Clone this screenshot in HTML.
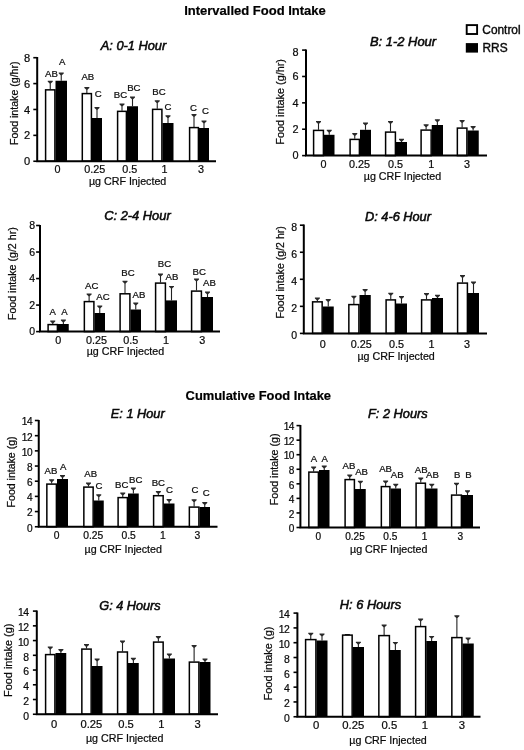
<!DOCTYPE html>
<html lang="en"><head><meta charset="utf-8"><title>Food Intake</title>
<style>
html,body{margin:0;padding:0;background:#fff;}
body{width:524px;height:750px;overflow:hidden;}
svg{display:block;font-family:"Liberation Sans", Arial, Helvetica, sans-serif;fill:#0a0a0a;filter:blur(0.45px);}
text{stroke:#0a0a0a;stroke-width:0.22px;}
.ax{fill:none;stroke:#000;stroke-width:2;stroke-linejoin:miter;}
.tk{fill:none;stroke:#000;stroke-width:1.6;}
.eb{fill:none;stroke:#222;stroke-width:1.1;}
.ec{fill:#2a2a2a;stroke:none;}
.wb{fill:#fff;stroke:#000;stroke-width:1.5;}
.bb{fill:#000;}
.yt{font-size:10.5px;text-anchor:end;}
.xt{font-size:10.8px;text-anchor:middle;}
.xl{font-size:10.7px;text-anchor:middle;}
.yl{font-size:11.5px;text-anchor:middle;}
.pt{font-size:13.2px;font-style:italic;text-anchor:middle;stroke-width:0.55px;}
.lt{font-size:9.6px;text-anchor:middle;fill:#111;}
.mt{font-size:13px;font-weight:bold;text-anchor:middle;fill:#000;}
.lg{font-size:11.9px;stroke-width:0.4px;}
</style></head><body>
<svg width="524" height="750" viewBox="0 0 524 750">
<rect width="524" height="750" fill="#fff"/>
<text x="255" y="15.3" class="mt">Intervalled Food Intake</text>
<text x="258.3" y="399.9" class="mt" style="font-size:12.9px">Cumulative Food Intake</text>
<rect x="466.7" y="25.1" width="10.4" height="8.9" fill="#fff" stroke="#000" stroke-width="1.9"/>
<rect x="465.8" y="43.1" width="12.2" height="9.5" fill="#000"/>
<text x="482.3" y="34" class="lg">Control</text>
<text x="482.5" y="52.2" class="lg">RRS</text>
<path d="M50.25 89.25V81.25" class="eb"/><path d="M47.75 80.75H52.75V81.65L50.75 83.45H49.75L47.75 81.65Z" class="ec"/>
<path d="M61.25 80.75V73.00" class="eb"/><path d="M58.75 72.50H63.75V73.40L61.75 75.20H60.75L58.75 73.40Z" class="ec"/>
<rect x="45.60" y="89.85" width="9.30" height="71.40" class="wb"/>
<rect x="55.50" y="80.75" width="11.50" height="80.50" class="bb"/>
<path d="M86.85 93.00V87.50" class="eb"/><path d="M84.35 87.00H89.35V87.90L87.35 89.70H86.35L84.35 87.90Z" class="ec"/>
<path d="M97.00 118.00V107.60" class="eb"/><path d="M94.50 107.10H99.50V108.00L97.50 109.80H96.50L94.50 108.00Z" class="ec"/>
<rect x="82.30" y="93.60" width="9.10" height="67.65" class="wb"/>
<rect x="92.00" y="118.00" width="10.00" height="43.25" class="bb"/>
<path d="M122.00 110.75V104.00" class="eb"/><path d="M119.50 103.50H124.50V104.40L122.50 106.20H121.50L119.50 104.40Z" class="ec"/>
<path d="M132.50 106.25V97.00" class="eb"/><path d="M130.00 96.50H135.00V97.40L133.00 99.20H132.00L130.00 97.40Z" class="ec"/>
<rect x="117.60" y="111.35" width="8.80" height="49.90" class="wb"/>
<rect x="127.00" y="106.25" width="11.00" height="55.00" class="bb"/>
<path d="M157.25 108.75V100.75" class="eb"/><path d="M154.75 100.25H159.75V101.15L157.75 102.95H156.75L154.75 101.15Z" class="ec"/>
<path d="M168.00 123.00V115.75" class="eb"/><path d="M165.50 115.25H170.50V116.15L168.50 117.95H167.50L165.50 116.15Z" class="ec"/>
<rect x="152.60" y="109.35" width="9.30" height="51.90" class="wb"/>
<rect x="162.50" y="123.00" width="11.00" height="38.25" class="bb"/>
<path d="M194.00 127.00V114.60" class="eb"/><path d="M191.50 114.10H196.50V115.00L194.50 116.80H193.50L191.50 115.00Z" class="ec"/>
<path d="M204.00 128.00V121.10" class="eb"/><path d="M201.50 120.60H206.50V121.50L204.50 123.30H203.50L201.50 121.50Z" class="ec"/>
<rect x="189.60" y="127.60" width="8.80" height="33.65" class="wb"/>
<rect x="199.00" y="128.00" width="10.00" height="33.25" class="bb"/>
<path d="M37.20 57.10V161.25H216.00" class="ax"/>
<path d="M33.30 161.25H37.20" class="tk"/>
<text x="30.20" y="165.35" class="yt" style="font-size:11.1px;letter-spacing:0px">0</text>
<path d="M33.30 135.36H37.20" class="tk"/>
<text x="30.20" y="139.46" class="yt" style="font-size:11.1px;letter-spacing:0px">2</text>
<path d="M33.30 109.47H37.20" class="tk"/>
<text x="30.20" y="113.58" class="yt" style="font-size:11.1px;letter-spacing:0px">4</text>
<path d="M33.30 83.59H37.20" class="tk"/>
<text x="30.20" y="87.69" class="yt" style="font-size:11.1px;letter-spacing:0px">6</text>
<path d="M33.30 57.70H37.20" class="tk"/>
<text x="30.20" y="61.80" class="yt" style="font-size:11.1px;letter-spacing:0px">8</text>
<text x="57.40" y="172.5" class="xt" style="font-size:10.8px">0</text>
<text x="94.80" y="172.5" class="xt" style="font-size:10.8px">0.25</text>
<text x="129.70" y="172.5" class="xt" style="font-size:10.8px">0.5</text>
<text x="164.50" y="172.5" class="xt" style="font-size:10.8px">1</text>
<text x="201.00" y="172.5" class="xt" style="font-size:10.8px">3</text>
<text x="127.60" y="185" class="xl">µg CRF Injected</text>
<text transform="translate(17.6 103.27) rotate(-90)" class="yl" style="font-size:10.6px">Food intake (g/hr)</text>
<text x="133.5" y="50" class="pt" style="font-size:12.8px">A: 0-1 Hour</text>
<text x="51.5" y="76.5" class="lt">AB</text>
<text x="62.3" y="64.7" class="lt">A</text>
<text x="87.8" y="79.9" class="lt">AB</text>
<text x="98.3" y="96.5" class="lt">C</text>
<text x="120.5" y="98" class="lt">BC</text>
<text x="133.8" y="91.2" class="lt">BC</text>
<text x="159" y="94.5" class="lt">BC</text>
<text x="168" y="110" class="lt">C</text>
<text x="193.4" y="110.5" class="lt">C</text>
<text x="205.4" y="113.75" class="lt">C</text>
<path d="M318.50 129.80V121.50" class="eb"/><path d="M316.00 121.00H321.00V121.90L319.00 123.70H318.00L316.00 121.90Z" class="ec"/>
<path d="M329.25 134.80V130.25" class="eb"/><path d="M326.75 129.75H331.75V130.65L329.75 132.45H328.75L326.75 130.65Z" class="ec"/>
<rect x="313.60" y="130.40" width="9.80" height="25.20" class="wb"/>
<rect x="324.00" y="134.80" width="10.50" height="20.80" class="bb"/>
<path d="M354.75 138.80V133.50" class="eb"/><path d="M352.25 133.00H357.25V133.90L355.25 135.70H354.25L352.25 133.90Z" class="ec"/>
<path d="M365.50 129.80V123.00" class="eb"/><path d="M363.00 122.50H368.00V123.40L366.00 125.20H365.00L363.00 123.40Z" class="ec"/>
<rect x="350.10" y="139.40" width="9.30" height="16.20" class="wb"/>
<rect x="360.00" y="129.80" width="11.00" height="25.80" class="bb"/>
<path d="M390.50 131.50V121.50" class="eb"/><path d="M388.00 121.00H393.00V121.90L391.00 123.70H390.00L388.00 121.90Z" class="ec"/>
<path d="M401.50 142.00V139.25" class="eb"/><path d="M399.00 138.75H404.00V139.65L402.00 141.45H401.00L399.00 139.65Z" class="ec"/>
<rect x="385.60" y="132.10" width="9.80" height="23.50" class="wb"/>
<rect x="396.00" y="142.00" width="11.00" height="13.60" class="bb"/>
<path d="M426.12 129.50V124.80" class="eb"/><path d="M423.62 124.30H428.62V125.20L426.62 127.00H425.62L423.62 125.20Z" class="ec"/>
<path d="M437.38 125.00V119.75" class="eb"/><path d="M434.88 119.25H439.88V120.15L437.88 121.95H436.88L434.88 120.15Z" class="ec"/>
<rect x="421.10" y="130.10" width="10.05" height="25.50" class="wb"/>
<rect x="431.75" y="125.00" width="11.25" height="30.60" class="bb"/>
<path d="M462.12 127.50V120.50" class="eb"/><path d="M459.62 120.00H464.62V120.90L462.62 122.70H461.62L459.62 120.90Z" class="ec"/>
<path d="M473.12 130.50V126.50" class="eb"/><path d="M470.62 126.00H475.62V126.90L473.62 128.70H472.62L470.62 126.90Z" class="ec"/>
<rect x="457.35" y="128.10" width="9.55" height="27.50" class="wb"/>
<rect x="467.50" y="130.50" width="11.25" height="25.10" class="bb"/>
<path d="M306.00 49.50V155.60H487.00" class="ax"/>
<path d="M302.10 155.60H306.00" class="tk"/>
<text x="298.50" y="159.30" class="yt" style="font-size:10.9px;letter-spacing:0px">0</text>
<path d="M302.10 129.22H306.00" class="tk"/>
<text x="298.50" y="132.92" class="yt" style="font-size:10.9px;letter-spacing:0px">2</text>
<path d="M302.10 102.85H306.00" class="tk"/>
<text x="298.50" y="106.55" class="yt" style="font-size:10.9px;letter-spacing:0px">4</text>
<path d="M302.10 76.47H306.00" class="tk"/>
<text x="298.50" y="80.17" class="yt" style="font-size:10.9px;letter-spacing:0px">6</text>
<path d="M302.10 50.10H306.00" class="tk"/>
<text x="298.50" y="55.60" class="yt" style="font-size:10.9px;letter-spacing:0px">8</text>
<text x="323.50" y="167.7" class="xt" style="font-size:10.8px">0</text>
<text x="359.50" y="167.7" class="xt" style="font-size:10.8px">0.25</text>
<text x="395.50" y="167.7" class="xt" style="font-size:10.8px">0.5</text>
<text x="431.25" y="167.7" class="xt" style="font-size:10.8px">1</text>
<text x="467.00" y="167.7" class="xt" style="font-size:10.8px">3</text>
<text x="402.50" y="180" class="xl">µg CRF Injected</text>
<text transform="translate(284.25 101.85) rotate(-90)" class="yl" style="font-size:10.85px">Food intake (g/hr)</text>
<text x="403" y="45.8" class="pt" style="font-size:12.95px">B: 1-2 Hour</text>
<path d="M52.75 324.00V321.00" class="eb"/><path d="M50.25 320.50H55.25V321.40L53.25 323.20H52.25L50.25 321.40Z" class="ec"/>
<path d="M63.38 324.00V320.00" class="eb"/><path d="M60.88 319.50H65.88V320.40L63.88 322.20H62.88L60.88 320.40Z" class="ec"/>
<rect x="48.10" y="324.60" width="9.30" height="7.00" class="wb"/>
<rect x="58.00" y="324.00" width="10.75" height="7.60" class="bb"/>
<path d="M89.12 301.00V294.00" class="eb"/><path d="M86.62 293.50H91.62V294.40L89.62 296.20H88.62L86.62 294.40Z" class="ec"/>
<path d="M99.75 313.00V306.00" class="eb"/><path d="M97.25 305.50H102.25V306.40L100.25 308.20H99.25L97.25 306.40Z" class="ec"/>
<rect x="84.35" y="301.60" width="9.55" height="30.00" class="wb"/>
<rect x="94.50" y="313.00" width="10.50" height="18.60" class="bb"/>
<path d="M125.00 293.20V281.30" class="eb"/><path d="M122.50 280.80H127.50V281.70L125.50 283.50H124.50L122.50 281.70Z" class="ec"/>
<path d="M135.75 309.50V303.00" class="eb"/><path d="M133.25 302.50H138.25V303.40L136.25 305.20H135.25L133.25 303.40Z" class="ec"/>
<rect x="120.10" y="293.80" width="9.80" height="37.80" class="wb"/>
<rect x="130.50" y="309.50" width="10.50" height="22.10" class="bb"/>
<path d="M160.50 282.50V274.10" class="eb"/><path d="M158.00 273.60H163.00V274.50L161.00 276.30H160.00L158.00 274.50Z" class="ec"/>
<path d="M171.50 300.40V286.40" class="eb"/><path d="M169.00 285.90H174.00V286.80L172.00 288.60H171.00L169.00 286.80Z" class="ec"/>
<rect x="155.60" y="283.10" width="9.80" height="48.50" class="wb"/>
<rect x="166.00" y="300.40" width="11.00" height="31.20" class="bb"/>
<path d="M196.50 290.50V279.00" class="eb"/><path d="M194.00 278.50H199.00V279.40L197.00 281.20H196.00L194.00 279.40Z" class="ec"/>
<path d="M207.50 297.00V292.00" class="eb"/><path d="M205.00 291.50H210.00V292.40L208.00 294.20H207.00L205.00 292.40Z" class="ec"/>
<rect x="191.60" y="291.10" width="9.80" height="40.50" class="wb"/>
<rect x="202.00" y="297.00" width="11.00" height="34.60" class="bb"/>
<path d="M40.00 224.90V331.60H220.00" class="ax"/>
<path d="M36.10 331.60H40.00" class="tk"/>
<text x="35.00" y="335.30" class="yt" style="font-size:10.5px;letter-spacing:0px">0</text>
<path d="M36.10 305.08H40.00" class="tk"/>
<text x="35.00" y="308.78" class="yt" style="font-size:10.5px;letter-spacing:0px">2</text>
<path d="M36.10 278.55H40.00" class="tk"/>
<text x="35.00" y="282.25" class="yt" style="font-size:10.5px;letter-spacing:0px">4</text>
<path d="M36.10 252.03H40.00" class="tk"/>
<text x="35.00" y="255.72" class="yt" style="font-size:10.5px;letter-spacing:0px">6</text>
<path d="M36.10 225.50H40.00" class="tk"/>
<text x="35.00" y="229.20" class="yt" style="font-size:10.5px;letter-spacing:0px">8</text>
<text x="58.30" y="343.5" class="xt" style="font-size:10.8px">0</text>
<text x="96.50" y="343.5" class="xt" style="font-size:10.8px">0.25</text>
<text x="130.75" y="343.5" class="xt" style="font-size:10.8px">0.5</text>
<text x="166.10" y="343.5" class="xt" style="font-size:10.8px">1</text>
<text x="202.25" y="343.5" class="xt" style="font-size:10.8px">3</text>
<text x="125.40" y="354.5" class="xl">µg CRF Injected</text>
<text transform="translate(16.1 273.70) rotate(-90)" class="yl" style="font-size:10.65px">Food intake (g/2 hr)</text>
<text x="137.45" y="220.3" class="pt" style="font-size:12.86px">C: 2-4 Hour</text>
<text x="52.7" y="315" class="lt">A</text>
<text x="64.5" y="315" class="lt">A</text>
<text x="91.7" y="289" class="lt">AC</text>
<text x="103" y="300" class="lt">AC</text>
<text x="128" y="276" class="lt">BC</text>
<text x="139" y="298" class="lt">AB</text>
<text x="164.4" y="267" class="lt">BC</text>
<text x="172" y="279.6" class="lt">AB</text>
<text x="199.2" y="274.7" class="lt">BC</text>
<text x="209.5" y="286.3" class="lt">AB</text>
<path d="M317.38 301.25V298.00" class="eb"/><path d="M314.88 297.50H319.88V298.40L317.88 300.20H316.88L314.88 298.40Z" class="ec"/>
<path d="M328.25 306.50V299.50" class="eb"/><path d="M325.75 299.00H330.75V299.90L328.75 301.70H327.75L325.75 299.90Z" class="ec"/>
<rect x="312.60" y="301.85" width="9.55" height="31.55" class="wb"/>
<rect x="322.75" y="306.50" width="11.00" height="26.90" class="bb"/>
<path d="M353.88 304.00V296.30" class="eb"/><path d="M351.38 295.80H356.38V296.70L354.38 298.50H353.38L351.38 296.70Z" class="ec"/>
<path d="M365.12 295.00V289.50" class="eb"/><path d="M362.62 289.00H367.62V289.90L365.62 291.70H364.62L362.62 289.90Z" class="ec"/>
<rect x="348.85" y="304.60" width="10.05" height="28.80" class="wb"/>
<rect x="359.50" y="295.00" width="11.25" height="38.40" class="bb"/>
<path d="M390.75 299.30V293.25" class="eb"/><path d="M388.25 292.75H393.25V293.65L391.25 295.45H390.25L388.25 293.65Z" class="ec"/>
<path d="M401.50 303.50V296.50" class="eb"/><path d="M399.00 296.00H404.00V296.90L402.00 298.70H401.00L399.00 296.90Z" class="ec"/>
<rect x="386.10" y="299.90" width="9.30" height="33.50" class="wb"/>
<rect x="396.00" y="303.50" width="11.00" height="29.90" class="bb"/>
<path d="M426.50 299.30V293.50" class="eb"/><path d="M424.00 293.00H429.00V293.90L427.00 295.70H426.00L424.00 293.90Z" class="ec"/>
<path d="M437.50 298.00V295.30" class="eb"/><path d="M435.00 294.80H440.00V295.70L438.00 297.50H437.00L435.00 295.70Z" class="ec"/>
<rect x="421.60" y="299.90" width="9.80" height="33.50" class="wb"/>
<rect x="432.00" y="298.00" width="11.00" height="35.40" class="bb"/>
<path d="M462.50 282.50V275.50" class="eb"/><path d="M460.00 275.00H465.00V275.90L463.00 277.70H462.00L460.00 275.90Z" class="ec"/>
<path d="M473.50 293.00V282.00" class="eb"/><path d="M471.00 281.50H476.00V282.40L474.00 284.20H473.00L471.00 282.40Z" class="ec"/>
<rect x="457.60" y="283.10" width="9.80" height="50.30" class="wb"/>
<rect x="468.00" y="293.00" width="11.00" height="40.40" class="bb"/>
<path d="M303.80 224.60V333.40H487.00" class="ax"/>
<path d="M299.90 333.40H303.80" class="tk"/>
<text x="297.00" y="339.40" class="yt" style="font-size:10.5px;letter-spacing:0px">0</text>
<path d="M299.90 306.35H303.80" class="tk"/>
<text x="297.00" y="312.35" class="yt" style="font-size:10.5px;letter-spacing:0px">2</text>
<path d="M299.90 279.30H303.80" class="tk"/>
<text x="297.00" y="285.30" class="yt" style="font-size:10.5px;letter-spacing:0px">4</text>
<path d="M299.90 252.25H303.80" class="tk"/>
<text x="297.00" y="258.25" class="yt" style="font-size:10.5px;letter-spacing:0px">6</text>
<path d="M299.90 225.20H303.80" class="tk"/>
<text x="297.00" y="231.20" class="yt" style="font-size:10.5px;letter-spacing:0px">8</text>
<text x="322.75" y="347.7" class="xt" style="font-size:10.8px">0</text>
<text x="361.25" y="347.7" class="xt" style="font-size:10.8px">0.25</text>
<text x="396.40" y="347.7" class="xt" style="font-size:10.8px">0.5</text>
<text x="431.50" y="347.7" class="xt" style="font-size:10.8px">1</text>
<text x="467.00" y="347.7" class="xt" style="font-size:10.8px">3</text>
<text x="396.10" y="359.6" class="xl">µg CRF Injected</text>
<text transform="translate(284.0 272.35) rotate(-90)" class="yl" style="font-size:10.6px">Food intake (g/2 hr)</text>
<text x="398" y="220.7" class="pt" style="font-size:12.75px">D: 4-6 Hour</text>
<path d="M51.62 483.50V479.75" class="eb"/><path d="M49.12 479.25H54.12V480.15L52.12 481.95H51.12L49.12 480.15Z" class="ec"/>
<path d="M62.50 479.00V475.50" class="eb"/><path d="M60.00 475.00H65.00V475.90L63.00 477.70H62.00L60.00 475.90Z" class="ec"/>
<rect x="46.85" y="484.10" width="9.55" height="42.65" class="wb"/>
<rect x="57.00" y="479.00" width="11.00" height="47.75" class="bb"/>
<path d="M88.50 486.50V483.00" class="eb"/><path d="M86.00 482.50H91.00V483.40L89.00 485.20H88.00L86.00 483.40Z" class="ec"/>
<path d="M98.75 500.50V494.75" class="eb"/><path d="M96.25 494.25H101.25V495.15L99.25 496.95H98.25L96.25 495.15Z" class="ec"/>
<rect x="83.85" y="487.10" width="9.30" height="39.65" class="wb"/>
<rect x="93.75" y="500.50" width="10.00" height="26.25" class="bb"/>
<path d="M122.75 497.00V493.00" class="eb"/><path d="M120.25 492.50H125.25V493.40L123.25 495.20H122.25L120.25 493.40Z" class="ec"/>
<path d="M133.38 493.50V488.00" class="eb"/><path d="M130.88 487.50H135.88V488.40L133.88 490.20H132.88L130.88 488.40Z" class="ec"/>
<rect x="118.10" y="497.60" width="9.30" height="29.15" class="wb"/>
<rect x="128.00" y="493.50" width="10.75" height="33.25" class="bb"/>
<path d="M158.38 495.10V491.50" class="eb"/><path d="M155.88 491.00H160.88V491.90L158.88 493.70H157.88L155.88 491.90Z" class="ec"/>
<path d="M169.12 503.50V499.50" class="eb"/><path d="M166.62 499.00H171.62V499.90L169.62 501.70H168.62L166.62 499.90Z" class="ec"/>
<rect x="153.60" y="495.70" width="9.55" height="31.05" class="wb"/>
<rect x="163.75" y="503.50" width="10.75" height="23.25" class="bb"/>
<path d="M194.12 506.50V499.75" class="eb"/><path d="M191.62 499.25H196.62V500.15L194.62 501.95H193.62L191.62 500.15Z" class="ec"/>
<path d="M204.75 507.00V502.50" class="eb"/><path d="M202.25 502.00H207.25V502.90L205.25 504.70H204.25L202.25 502.90Z" class="ec"/>
<rect x="189.35" y="507.10" width="9.55" height="19.65" class="wb"/>
<rect x="199.50" y="507.00" width="10.50" height="19.75" class="bb"/>
<path d="M38.75 419.90V526.75H217.50" class="ax"/>
<path d="M34.85 526.75H38.75" class="tk"/>
<text x="32.05" y="531.65" class="yt" style="font-size:10.1px;letter-spacing:-0.5px">0</text>
<path d="M34.85 511.57H38.75" class="tk"/>
<text x="32.05" y="516.47" class="yt" style="font-size:10.1px;letter-spacing:-0.5px">2</text>
<path d="M34.85 496.39H38.75" class="tk"/>
<text x="32.05" y="501.29" class="yt" style="font-size:10.1px;letter-spacing:-0.5px">4</text>
<path d="M34.85 481.21H38.75" class="tk"/>
<text x="32.05" y="486.11" class="yt" style="font-size:10.1px;letter-spacing:-0.5px">6</text>
<path d="M34.85 466.04H38.75" class="tk"/>
<text x="32.05" y="470.94" class="yt" style="font-size:10.1px;letter-spacing:-0.5px">8</text>
<path d="M34.85 450.86H38.75" class="tk"/>
<text x="32.05" y="455.76" class="yt" style="font-size:10.1px;letter-spacing:-0.5px">10</text>
<path d="M34.85 435.68H38.75" class="tk"/>
<text x="32.05" y="440.58" class="yt" style="font-size:10.1px;letter-spacing:-0.5px">12</text>
<path d="M34.85 420.50H38.75" class="tk"/>
<text x="32.05" y="425.40" class="yt" style="font-size:10.1px;letter-spacing:-0.5px">14</text>
<text x="56.50" y="539.4" class="xt" style="font-size:10.3px">0</text>
<text x="93.30" y="539.4" class="xt" style="font-size:10.3px">0.25</text>
<text x="128.70" y="539.4" class="xt" style="font-size:10.3px">0.5</text>
<text x="162.75" y="539.4" class="xt" style="font-size:10.3px">1</text>
<text x="197.25" y="539.4" class="xt" style="font-size:10.3px">3</text>
<text x="123.22" y="552.7" class="xl">µg CRF Injected</text>
<text transform="translate(15.45 471.93) rotate(-90)" class="yl" style="font-size:10.56px">Food intake (g)</text>
<text x="137.75" y="418" class="pt" style="font-size:12.75px">E: 1 Hour</text>
<text x="51" y="473.5" class="lt">AB</text>
<text x="63.25" y="470.3" class="lt">A</text>
<text x="90.7" y="477.2" class="lt">AB</text>
<text x="99" y="489.2" class="lt">C</text>
<text x="121.7" y="487.5" class="lt">BC</text>
<text x="135.75" y="483" class="lt">BC</text>
<text x="158.3" y="485.5" class="lt">BC</text>
<text x="169.5" y="493.2" class="lt">C</text>
<text x="195" y="493" class="lt">C</text>
<text x="206.1" y="496.1" class="lt">C</text>
<path d="M313.62 471.50V467.00" class="eb"/><path d="M311.12 466.50H316.12V467.40L314.12 469.20H313.12L311.12 467.40Z" class="ec"/>
<path d="M324.25 470.00V466.00" class="eb"/><path d="M321.75 465.50H326.75V466.40L324.75 468.20H323.75L321.75 466.40Z" class="ec"/>
<rect x="308.85" y="472.10" width="9.55" height="55.40" class="wb"/>
<rect x="319.00" y="470.00" width="10.50" height="57.50" class="bb"/>
<path d="M349.75 479.00V475.00" class="eb"/><path d="M347.25 474.50H352.25V475.40L350.25 477.20H349.25L347.25 475.40Z" class="ec"/>
<path d="M360.38 489.00V481.30" class="eb"/><path d="M357.88 480.80H362.88V481.70L360.88 483.50H359.88L357.88 481.70Z" class="ec"/>
<rect x="345.10" y="479.60" width="9.30" height="47.90" class="wb"/>
<rect x="355.00" y="489.00" width="10.75" height="38.50" class="bb"/>
<path d="M385.62 486.00V481.00" class="eb"/><path d="M383.12 480.50H388.12V481.40L386.12 483.20H385.12L383.12 481.40Z" class="ec"/>
<path d="M395.75 488.50V484.30" class="eb"/><path d="M393.25 483.80H398.25V484.70L396.25 486.50H395.25L393.25 484.70Z" class="ec"/>
<rect x="381.35" y="486.60" width="8.55" height="40.90" class="wb"/>
<rect x="390.50" y="488.50" width="10.50" height="39.00" class="bb"/>
<path d="M420.75 482.60V478.00" class="eb"/><path d="M418.25 477.50H423.25V478.40L421.25 480.20H420.25L418.25 478.40Z" class="ec"/>
<path d="M431.75 488.50V484.30" class="eb"/><path d="M429.25 483.80H434.25V484.70L432.25 486.50H431.25L429.25 484.70Z" class="ec"/>
<rect x="416.10" y="483.20" width="9.30" height="44.30" class="wb"/>
<rect x="426.00" y="488.50" width="11.50" height="39.00" class="bb"/>
<path d="M456.50 494.50V483.30" class="eb"/><path d="M454.00 482.80H459.00V483.70L457.00 485.50H456.00L454.00 483.70Z" class="ec"/>
<path d="M467.50 495.00V490.80" class="eb"/><path d="M465.00 490.30H470.00V491.20L468.00 493.00H467.00L465.00 491.20Z" class="ec"/>
<rect x="451.60" y="495.10" width="9.80" height="32.40" class="wb"/>
<rect x="462.00" y="495.00" width="11.00" height="32.50" class="bb"/>
<path d="M300.40 425.00V527.50H480.00" class="ax"/>
<path d="M296.50 527.50H300.40" class="tk"/>
<text x="293.90" y="532.20" class="yt" style="font-size:10.1px;letter-spacing:-0.5px">0</text>
<path d="M296.50 512.94H300.40" class="tk"/>
<text x="293.90" y="517.64" class="yt" style="font-size:10.1px;letter-spacing:-0.5px">2</text>
<path d="M296.50 498.39H300.40" class="tk"/>
<text x="293.90" y="503.09" class="yt" style="font-size:10.1px;letter-spacing:-0.5px">4</text>
<path d="M296.50 483.83H300.40" class="tk"/>
<text x="293.90" y="488.53" class="yt" style="font-size:10.1px;letter-spacing:-0.5px">6</text>
<path d="M296.50 469.27H300.40" class="tk"/>
<text x="293.90" y="473.97" class="yt" style="font-size:10.1px;letter-spacing:-0.5px">8</text>
<path d="M296.50 454.71H300.40" class="tk"/>
<text x="293.90" y="459.41" class="yt" style="font-size:10.1px;letter-spacing:-0.5px">10</text>
<path d="M296.50 440.16H300.40" class="tk"/>
<text x="293.90" y="444.86" class="yt" style="font-size:10.1px;letter-spacing:-0.5px">12</text>
<path d="M296.50 425.60H300.40" class="tk"/>
<text x="293.90" y="430.30" class="yt" style="font-size:10.1px;letter-spacing:-0.5px">14</text>
<text x="318.25" y="539.5" class="xt" style="font-size:10.1px">0</text>
<text x="355.00" y="539.5" class="xt" style="font-size:10.1px">0.25</text>
<text x="390.30" y="539.5" class="xt" style="font-size:10.1px">0.5</text>
<text x="424.50" y="539.5" class="xt" style="font-size:10.1px">1</text>
<text x="460.25" y="539.5" class="xt" style="font-size:10.1px">3</text>
<text x="388.70" y="553.4" class="xl">µg CRF Injected</text>
<text transform="translate(278.2 469.40) rotate(-90)" class="yl" style="font-size:10.66px">Food intake (g)</text>
<text x="397.9" y="418.2" class="pt" style="font-size:12.8px">F: 2 Hours</text>
<text x="314" y="461.5" class="lt">A</text>
<text x="324.6" y="461.5" class="lt">A</text>
<text x="349" y="468.5" class="lt">AB</text>
<text x="361.6" y="475" class="lt">AB</text>
<text x="385.6" y="472.25" class="lt">AB</text>
<text x="397.2" y="478.3" class="lt">AB</text>
<text x="421.25" y="472.5" class="lt">AB</text>
<text x="432.5" y="478.3" class="lt">AB</text>
<text x="457.1" y="477.5" class="lt">B</text>
<text x="468.4" y="477.5" class="lt">B</text>
<path d="M50.25 654.00V647.00" class="eb"/><path d="M47.75 646.50H52.75V647.40L50.75 649.20H49.75L47.75 647.40Z" class="ec"/>
<path d="M60.88 653.00V649.50" class="eb"/><path d="M58.38 649.00H63.38V649.90L61.38 651.70H60.38L58.38 649.90Z" class="ec"/>
<rect x="45.60" y="654.60" width="9.30" height="59.65" class="wb"/>
<rect x="55.50" y="653.00" width="10.75" height="61.25" class="bb"/>
<path d="M86.50 648.50V644.50" class="eb"/><path d="M84.00 644.00H89.00V644.90L87.00 646.70H86.00L84.00 644.90Z" class="ec"/>
<path d="M97.12 666.00V659.00" class="eb"/><path d="M94.62 658.50H99.62V659.40L97.62 661.20H96.62L94.62 659.40Z" class="ec"/>
<rect x="81.85" y="649.10" width="9.30" height="65.15" class="wb"/>
<rect x="91.75" y="666.00" width="10.75" height="48.25" class="bb"/>
<path d="M122.50 651.40V641.00" class="eb"/><path d="M120.00 640.50H125.00V641.40L123.00 643.20H122.00L120.00 641.40Z" class="ec"/>
<path d="M133.38 663.00V658.30" class="eb"/><path d="M130.88 657.80H135.88V658.70L133.88 660.50H132.88L130.88 658.70Z" class="ec"/>
<rect x="117.60" y="652.00" width="9.80" height="62.25" class="wb"/>
<rect x="128.00" y="663.00" width="10.75" height="51.25" class="bb"/>
<path d="M158.38 641.50V636.50" class="eb"/><path d="M155.88 636.00H160.88V636.90L158.88 638.70H157.88L155.88 636.90Z" class="ec"/>
<path d="M169.38 658.50V654.00" class="eb"/><path d="M166.88 653.50H171.88V654.40L169.88 656.20H168.88L166.88 654.40Z" class="ec"/>
<rect x="153.60" y="642.10" width="9.55" height="72.15" class="wb"/>
<rect x="163.75" y="658.50" width="11.25" height="55.75" class="bb"/>
<path d="M194.12 661.50V645.50" class="eb"/><path d="M191.62 645.00H196.62V645.90L194.62 647.70H193.62L191.62 645.90Z" class="ec"/>
<path d="M205.00 662.00V659.00" class="eb"/><path d="M202.50 658.50H207.50V659.40L205.50 661.20H204.50L202.50 659.40Z" class="ec"/>
<rect x="189.35" y="662.10" width="9.55" height="52.15" class="wb"/>
<rect x="199.50" y="662.00" width="11.00" height="52.25" class="bb"/>
<path d="M36.80 610.50V714.25H218.00" class="ax"/>
<path d="M32.90 714.25H36.80" class="tk"/>
<text x="28.60" y="719.55" class="yt" style="font-size:10.4px;letter-spacing:-0.5px">0</text>
<path d="M32.90 699.51H36.80" class="tk"/>
<text x="28.60" y="704.81" class="yt" style="font-size:10.4px;letter-spacing:-0.5px">2</text>
<path d="M32.90 684.78H36.80" class="tk"/>
<text x="28.60" y="690.08" class="yt" style="font-size:10.4px;letter-spacing:-0.5px">4</text>
<path d="M32.90 670.04H36.80" class="tk"/>
<text x="28.60" y="675.34" class="yt" style="font-size:10.4px;letter-spacing:-0.5px">6</text>
<path d="M32.90 655.31H36.80" class="tk"/>
<text x="28.60" y="660.61" class="yt" style="font-size:10.4px;letter-spacing:-0.5px">8</text>
<path d="M32.90 640.57H36.80" class="tk"/>
<text x="28.60" y="645.87" class="yt" style="font-size:10.4px;letter-spacing:-0.5px">10</text>
<path d="M32.90 625.84H36.80" class="tk"/>
<text x="28.60" y="631.14" class="yt" style="font-size:10.4px;letter-spacing:-0.5px">12</text>
<path d="M32.90 611.10H36.80" class="tk"/>
<text x="28.60" y="616.40" class="yt" style="font-size:10.4px;letter-spacing:-0.5px">14</text>
<text x="54.10" y="727.7" class="xt" style="font-size:11.2px">0</text>
<text x="91.40" y="727.7" class="xt" style="font-size:11.2px">0.25</text>
<text x="126.00" y="727.7" class="xt" style="font-size:11.2px">0.5</text>
<text x="161.25" y="727.7" class="xt" style="font-size:11.2px">1</text>
<text x="197.50" y="727.7" class="xt" style="font-size:11.2px">3</text>
<text x="124.65" y="741.7" class="xl">µg CRF Injected</text>
<text transform="translate(11.7 660.27) rotate(-90)" class="yl" style="font-size:10.9px">Food intake (g)</text>
<text x="130" y="609.6" class="pt" style="font-size:12.7px">G: 4 Hours</text>
<path d="M310.75 639.00V633.30" class="eb"/><path d="M308.25 632.80H313.25V633.70L311.25 635.50H310.25L308.25 633.70Z" class="ec"/>
<path d="M322.00 640.50V634.00" class="eb"/><path d="M319.50 633.50H324.50V634.40L322.50 636.20H321.50L319.50 634.40Z" class="ec"/>
<rect x="305.60" y="639.60" width="10.30" height="77.15" class="wb"/>
<rect x="316.50" y="640.50" width="11.00" height="76.25" class="bb"/>
<path d="M347.38 634.50V634.50" class="eb"/><path d="M344.88 634.00H349.88V634.90L347.88 636.70H346.88L344.88 634.90Z" class="ec"/>
<path d="M358.38 647.00V642.20" class="eb"/><path d="M355.88 641.70H360.88V642.60L358.88 644.40H357.88L355.88 642.60Z" class="ec"/>
<rect x="342.60" y="635.10" width="9.55" height="81.65" class="wb"/>
<rect x="352.75" y="647.00" width="11.25" height="69.75" class="bb"/>
<path d="M384.12 635.00V625.00" class="eb"/><path d="M381.62 624.50H386.62V625.40L384.62 627.20H383.62L381.62 625.40Z" class="ec"/>
<path d="M395.38 650.00V642.40" class="eb"/><path d="M392.88 641.90H397.88V642.80L395.88 644.60H394.88L392.88 642.80Z" class="ec"/>
<rect x="378.85" y="635.60" width="10.55" height="81.15" class="wb"/>
<rect x="390.00" y="650.00" width="10.75" height="66.75" class="bb"/>
<path d="M420.62 626.00V619.00" class="eb"/><path d="M418.12 618.50H423.12V619.40L421.12 621.20H420.12L418.12 619.40Z" class="ec"/>
<path d="M431.62 641.00V636.40" class="eb"/><path d="M429.12 635.90H434.12V636.80L432.12 638.60H431.12L429.12 636.80Z" class="ec"/>
<rect x="415.60" y="626.60" width="10.05" height="90.15" class="wb"/>
<rect x="426.25" y="641.00" width="10.75" height="75.75" class="bb"/>
<path d="M456.88 637.00V615.75" class="eb"/><path d="M454.38 615.25H459.38V616.15L457.38 617.95H456.38L454.38 616.15Z" class="ec"/>
<path d="M468.12 643.50V638.00" class="eb"/><path d="M465.62 637.50H470.62V638.40L468.62 640.20H467.62L465.62 638.40Z" class="ec"/>
<rect x="451.85" y="637.60" width="10.05" height="79.15" class="wb"/>
<rect x="462.50" y="643.50" width="11.25" height="73.25" class="bb"/>
<path d="M297.40 612.50V716.75H480.50" class="ax"/>
<path d="M293.50 716.75H297.40" class="tk"/>
<text x="289.20" y="721.95" class="yt" style="font-size:10.4px;letter-spacing:-0.5px">0</text>
<path d="M293.50 701.94H297.40" class="tk"/>
<text x="289.20" y="707.14" class="yt" style="font-size:10.4px;letter-spacing:-0.5px">2</text>
<path d="M293.50 687.14H297.40" class="tk"/>
<text x="289.20" y="692.34" class="yt" style="font-size:10.4px;letter-spacing:-0.5px">4</text>
<path d="M293.50 672.33H297.40" class="tk"/>
<text x="289.20" y="677.53" class="yt" style="font-size:10.4px;letter-spacing:-0.5px">6</text>
<path d="M293.50 657.52H297.40" class="tk"/>
<text x="289.20" y="662.72" class="yt" style="font-size:10.4px;letter-spacing:-0.5px">8</text>
<path d="M293.50 642.71H297.40" class="tk"/>
<text x="289.20" y="647.91" class="yt" style="font-size:10.4px;letter-spacing:-0.5px">10</text>
<path d="M293.50 627.91H297.40" class="tk"/>
<text x="289.20" y="633.11" class="yt" style="font-size:10.4px;letter-spacing:-0.5px">12</text>
<path d="M293.50 613.10H297.40" class="tk"/>
<text x="289.20" y="618.30" class="yt" style="font-size:10.4px;letter-spacing:-0.5px">14</text>
<text x="316.10" y="728.9" class="xt" style="font-size:11.3px">0</text>
<text x="353.25" y="728.9" class="xt" style="font-size:11.3px">0.25</text>
<text x="389.40" y="728.9" class="xt" style="font-size:11.3px">0.5</text>
<text x="425.00" y="728.9" class="xt" style="font-size:11.3px">1</text>
<text x="462.00" y="728.9" class="xt" style="font-size:11.3px">3</text>
<text x="388.05" y="744" class="xl">µg CRF Injected</text>
<text transform="translate(272.0 663.52) rotate(-90)" class="yl" style="font-size:11.0px">Food intake (g)</text>
<text x="370.5" y="609.1" class="pt" style="font-size:12.85px">H: 6 Hours</text>
</svg>
</body></html>
